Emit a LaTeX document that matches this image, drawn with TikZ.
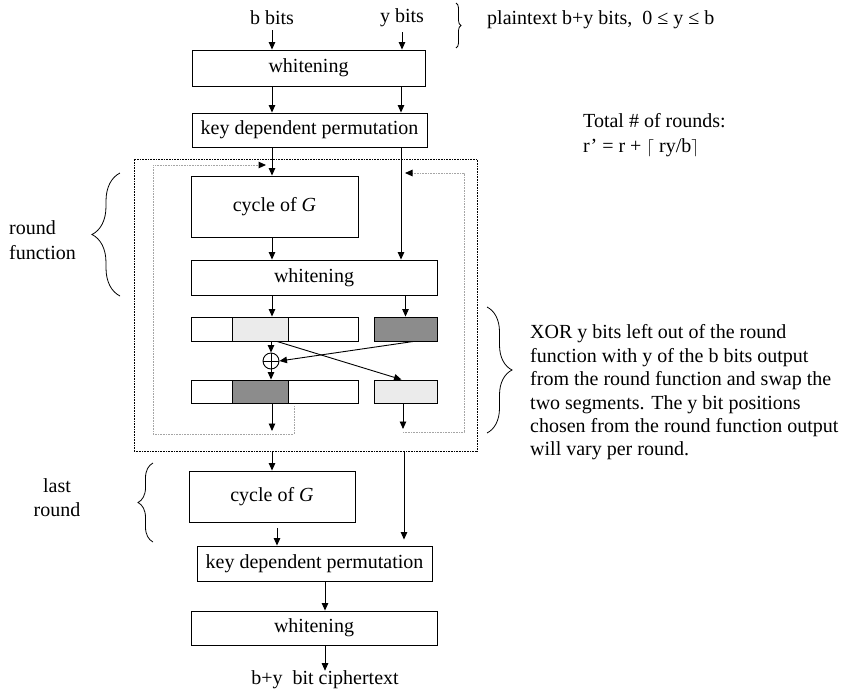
\documentclass[tikz,border=0pt]{standalone}
\usepackage{fontspec}
\setmainfont{Liberation Serif}
\usetikzlibrary{arrows.meta,decorations.pathreplacing,calc}
\definecolor{segdark}{RGB}{140,140,140}
\definecolor{seglight}{RGB}{235,235,235}
\definecolor{loopgray}{RGB}{165,165,165}
\begin{document}
\begin{tikzpicture}[x=1pt,y=-1pt,
  font=\fontsize{20}{24}\selectfont,
  box/.style={draw, line width=0.9pt, inner sep=0pt},
  arr/.style={-{Triangle[length=7.5pt,width=6.5pt]}, line width=0.9pt},
  dots/.style={line width=0.9pt, dash pattern=on 0.8pt off 0.8pt},
  gdots/.style={draw=loopgray, line width=1pt, dash pattern=on 0.8pt off 0.8pt},
  brc/.style={decorate, decoration={brace, amplitude=#1}, line width=0.8pt},
  lbl/.style={inner sep=0pt}]
\useasboundingbox (0,0) rectangle (859,694);

% column coordinates
\coordinate (xL) at (272,0);
\coordinate (xR) at (401,0);

% top labels
\node[lbl] (tb) at (272,18) {b bits};
\node[lbl] (ty) at (402,18) {y bits};
\draw[brc=5] (456,3) -- (456,48);
\node[lbl, anchor=west] (pt) at (487,20) {plaintext b+y bits,\ \ 0 ≤ y ≤ b};
\node[lbl, anchor=base west] (tot1) at (583,127) {Total \# of rounds:};
\node[lbl, anchor=base west] (tot2) at (583,152) {r’ = r + {\fontsize{18}{18}\selectfont$\lceil$} ry/b{\fontsize{18}{18}\selectfont$\rceil$}};

% top boxes
\node[box, minimum width=233pt, minimum height=36pt] (w1) at (308.5,68) {whitening};
\node[box, minimum width=235pt, minimum height=34pt] (kdp1) at (309.5,130) {key dependent permutation};

% outer round box
\node[draw, dots, minimum width=343pt, minimum height=292pt, inner sep=0pt] (rbox) at (305.5,305) {};

% round internals
\node[box, minimum width=167pt, minimum height=61pt] (cyc1) at (274.5,206.5) {cycle of \textit{G}};
\node[box, minimum width=246pt, minimum height=35pt] (w2) at (314,277.5) {whitening};
\node[box, minimum width=167pt, minimum height=24pt] (bar1) at (274.5,329) {};
\node[box, fill=seglight, minimum width=56pt, minimum height=24pt] (seg1) at (260,329) {};
\node[box, fill=segdark, minimum width=63pt, minimum height=24pt] (dk1) at (405.5,329) {};
\node[draw, circle, line width=0.9pt, minimum size=16pt, inner sep=0pt] (xor) at (271,361) {};
\draw[line width=0.9pt] (xor.north) -- (xor.south) (xor.west) -- (xor.east);
\node[box, minimum width=167pt, minimum height=23pt] (bar2) at (274.5,391.5) {};
\node[box, fill=segdark, minimum width=56pt, minimum height=23pt] (seg2) at (260,391.5) {};
\node[box, fill=seglight, minimum width=63pt, minimum height=23pt] (lt2) at (405.5,391.5) {};

% lower boxes
\node[box, minimum width=166pt, minimum height=51pt] (cyc2) at (272,496.5) {cycle of \textit{G}};
\node[box, minimum width=235pt, minimum height=35pt] (kdp2) at (314.5,563.5) {key dependent permutation};
\node[box, minimum width=246pt, minimum height=34pt] (w3) at (314,628) {whitening};
\node[lbl] (ct) at (325,680) {b+y\ \ bit ciphertext};

% side labels and braces
\draw[brc=28] (120,296) -- (120,173);
\node[lbl, anchor=west, align=left, font=\fontsize{20}{25}\selectfont] (rf) at (9,240) {round\\function};
\draw[brc=15] (153,542) -- (153,463);
\node[lbl, align=center, font=\fontsize{20}{24}\selectfont] (lr) at (57,498) {last\\round};
\draw[brc=25] (487,307) -- (487,433);
\node[lbl, anchor=west, align=left, font=\fontsize{20}{23.4}\selectfont] (xt) at (530,392.5)
  {XOR y bits left out of the round\\function with y of the b bits output\\from the round function and swap the\\two segments. The y bit positions\\chosen from the round function output\\will vary per round.};

% connectors
\draw[arr, shorten <=5pt] (tb.south) -- (w1.north -| tb);
\draw[arr, shorten <=5pt] (ty.south) -- (w1.north -| ty);
\draw[arr] (w1.south -| xL) -- (kdp1.north -| xL);
\draw[arr] (w1.south -| xR) -- (kdp1.north -| xR);
\draw[arr] (kdp1.south -| xL) -- (cyc1.north -| xL);
\draw[arr] (kdp1.south -| xR) -- (w2.north -| xR);
\draw[arr] (cyc1.south -| xL) -- (w2.north -| xL);
\draw[arr] (w2.south -| xL) -- (bar1.north -| xL);
\draw[arr] (w2.south -| dk1) -- (dk1.north);
\draw[arr] (bar1.south -| xor) -- (xor.north);
\draw[arr] (xor.south) -- (bar2.north -| xor);
\draw[arr] ($(seg1.south)+(17,0)$) -- ($(lt2.north)+(-4,0)$);
\draw[arr] ($(dk1.south)+(8,0)$) -- (xor.east);
\coordinate (d1) at (272,431);
\coordinate (d2) at (403,429);
\draw[arr] (bar2.south -| d1) -- (d1);
\draw[arr] (lt2.south -| d2) -- (d2);

% feedback loops
\coordinate (lpA) at (294,406);
\coordinate (lpB) at (266,165);
\coordinate (rpA) at (403,432);
\coordinate (rpB) at (405,173);
\draw[gdots, -{Triangle[length=7.5pt,width=6.5pt,color=black]}] (lpA) -- (294,434) -- (153,434) -- (153,165) -- (lpB);
\draw[gdots, -{Triangle[length=7.5pt,width=6.5pt,color=black]}] (rpA) -- (464,432) -- (464,173) -- (rpB);

% after the round box
\draw[arr] (rbox.south -| xL) -- (cyc2.north -| xL);
\draw[arr, shorten >=6pt] (rbox.south -| 404,0) -- (kdp2.north -| 404,0);
\draw[arr, shorten <=6pt] (cyc2.south -| 277,0) -- (kdp2.north -| 277,0);
\draw[arr] (kdp2.south -| ct) -- (w3.north -| ct);
\draw[arr] (w3.south -| ct) -- (ct.north);
\end{tikzpicture}
\end{document}
